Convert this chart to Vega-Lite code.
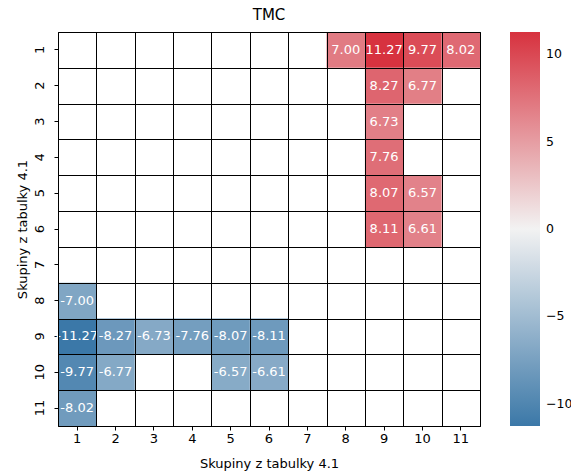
{
  "$schema": "https://vega.github.io/schema/vega-lite/v6.json",
  "width": 422,
  "height": 394,
  "padding": {"left": 16, "top": 8, "right": 0, "bottom": 5},
  "title": {"text": "TMC", "fontSize": 15, "fontWeight": "normal", "font": "DejaVu Sans", "color": "black", "offset": 9},
  "config": {
    "font": "DejaVu Sans",
    "view": {"stroke": "black", "strokeWidth": 1},
    "axis": {"labelFontSize": 13, "titleFontSize": 13, "labelColor": "black", "titleColor": "black", "titleFontWeight": "normal", "tickColor": "black", "tickSize": 4, "domain": false}
  },
  "data": {"values": [
    {"row": 1, "col": 8, "v": 7.00},
    {"row": 1, "col": 9, "v": 11.27},
    {"row": 1, "col": 10, "v": 9.77},
    {"row": 1, "col": 11, "v": 8.02},
    {"row": 2, "col": 9, "v": 8.27},
    {"row": 2, "col": 10, "v": 6.77},
    {"row": 3, "col": 9, "v": 6.73},
    {"row": 4, "col": 9, "v": 7.76},
    {"row": 5, "col": 9, "v": 8.07},
    {"row": 5, "col": 10, "v": 6.57},
    {"row": 6, "col": 9, "v": 8.11},
    {"row": 6, "col": 10, "v": 6.61},
    {"row": 8, "col": 1, "v": -7.00},
    {"row": 9, "col": 1, "v": -11.27},
    {"row": 9, "col": 2, "v": -8.27},
    {"row": 9, "col": 3, "v": -6.73},
    {"row": 9, "col": 4, "v": -7.76},
    {"row": 9, "col": 5, "v": -8.07},
    {"row": 9, "col": 6, "v": -8.11},
    {"row": 10, "col": 1, "v": -9.77},
    {"row": 10, "col": 2, "v": -6.77},
    {"row": 10, "col": 5, "v": -6.57},
    {"row": 10, "col": 6, "v": -6.61},
    {"row": 11, "col": 1, "v": -8.02}
  ]},
  "transform": [
    {"calculate": "replace(format(datum.v, '.2f'), '\u2212', '-')", "as": "label"}
  ],
  "encoding": {
    "x": {"field": "col", "type": "ordinal", "scale": {"domain": [1,2,3,4,5,6,7,8,9,10,11], "paddingInner": 0, "paddingOuter": 0}},
    "y": {"field": "row", "type": "ordinal", "scale": {"domain": [1,2,3,4,5,6,7,8,9,10,11], "paddingInner": 0, "paddingOuter": 0}}
  },
  "layer": [
    {
      "mark": {"type": "rect"},
      "encoding": {
        "x": {"field": "col", "type": "ordinal", "axis": {"orient": "top", "grid": true, "gridColor": "black", "gridOpacity": 1, "gridWidth": 1, "tickBand": "extent", "labels": false, "ticks": false, "title": null, "zindex": 1}},
        "y": {"field": "row", "type": "ordinal", "axis": {"orient": "right", "grid": true, "gridColor": "black", "gridOpacity": 1, "gridWidth": 1, "tickBand": "extent", "labels": false, "ticks": false, "title": null, "zindex": 1}},
        "color": {
          "field": "v", "type": "quantitative",
          "scale": {"domain": [-11.27, 0, 11.27], "range": ["#3b78a8", "#f2f2f2", "#d7323f"], "interpolate": "rgb"},
          "legend": {"title": null, "orient": "right", "direction": "vertical", "offset": 30, "gradientLength": 394, "gradientThickness": 30, "gradientStrokeWidth": 0, "values": [-10, -5, 0, 5, 10], "labelFontSize": 12.5, "labelColor": "black", "labelExpr": "replace(datum.label, '-', '\u2212')", "labelOffset": 6}
        }
      }
    },
    {
      "mark": {"type": "text", "fontSize": 13, "fill": "white"},
      "encoding": {
        "x": {"field": "col", "type": "ordinal", "axis": {"orient": "bottom", "title": "Skupiny z tabulky 4.1", "labelAngle": 0, "grid": false, "titlePadding": 12}},
        "y": {"field": "row", "type": "ordinal", "axis": {"orient": "left", "title": "Skupiny z tabulky 4.1", "labelAngle": -90, "grid": false, "labelPadding": 8}},
        "text": {"field": "label", "type": "nominal"}
      }
    }
  ],
  "resolve": {"axis": {"x": "independent", "y": "independent"}}
}
